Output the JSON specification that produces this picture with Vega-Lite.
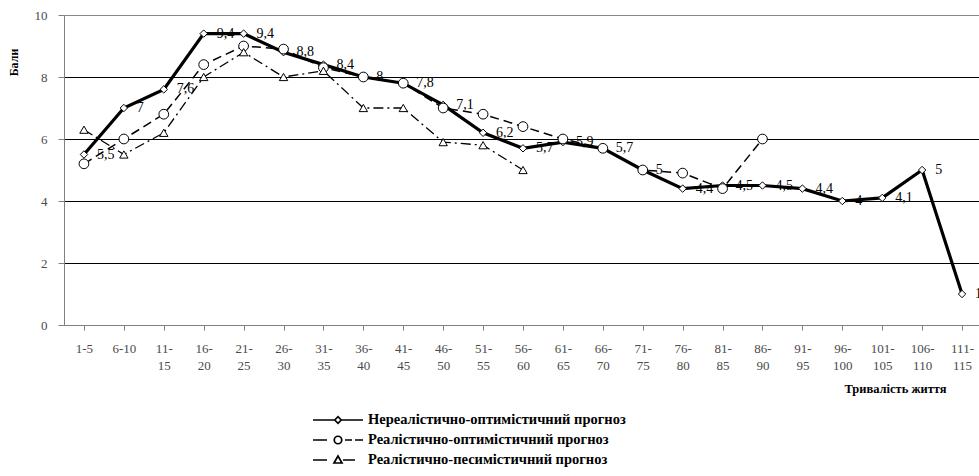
{
  "$schema": "https://vega.github.io/schema/vega-lite/v6.json",
  "autosize": {"type": "none"},
  "padding": {"left": 64, "top": 15, "right": 0, "bottom": 151},
  "width": 918,
  "height": 310,
  "background": "white",
  "config": {
    "view": {"stroke": null},
    "locale": {"number": {"decimal": ",", "thousands": " ", "grouping": [3], "currency": ["", ""]}},
    "axis": {"labelFont": "Liberation Serif", "titleFont": "Liberation Serif"},
    "legend": {"labelFont": "Liberation Serif"}
  },
  "datasets": {
    "main": [
      {"cat": "1-5", "series": "S1", "value": 5.5},
      {"cat": "6-10", "series": "S1", "value": 7},
      {"cat": "11-15", "series": "S1", "value": 7.6},
      {"cat": "16-20", "series": "S1", "value": 9.4},
      {"cat": "21-25", "series": "S1", "value": 9.4},
      {"cat": "26-30", "series": "S1", "value": 8.8},
      {"cat": "31-35", "series": "S1", "value": 8.4},
      {"cat": "36-40", "series": "S1", "value": 8},
      {"cat": "41-45", "series": "S1", "value": 7.8},
      {"cat": "46-50", "series": "S1", "value": 7.1},
      {"cat": "51-55", "series": "S1", "value": 6.2},
      {"cat": "56-60", "series": "S1", "value": 5.7},
      {"cat": "61-65", "series": "S1", "value": 5.9},
      {"cat": "66-70", "series": "S1", "value": 5.7},
      {"cat": "71-75", "series": "S1", "value": 5},
      {"cat": "76-80", "series": "S1", "value": 4.4},
      {"cat": "81-85", "series": "S1", "value": 4.5},
      {"cat": "86-90", "series": "S1", "value": 4.5},
      {"cat": "91-95", "series": "S1", "value": 4.4},
      {"cat": "96-100", "series": "S1", "value": 4},
      {"cat": "101-105", "series": "S1", "value": 4.1},
      {"cat": "106-110", "series": "S1", "value": 5},
      {"cat": "111-115", "series": "S1", "value": 1},
      {"cat": "1-5", "series": "S2", "value": 5.2},
      {"cat": "6-10", "series": "S2", "value": 6},
      {"cat": "11-15", "series": "S2", "value": 6.8},
      {"cat": "16-20", "series": "S2", "value": 8.4},
      {"cat": "21-25", "series": "S2", "value": 9},
      {"cat": "26-30", "series": "S2", "value": 8.9},
      {"cat": "31-35", "series": "S2", "value": 8.3},
      {"cat": "36-40", "series": "S2", "value": 8},
      {"cat": "41-45", "series": "S2", "value": 7.8},
      {"cat": "46-50", "series": "S2", "value": 7},
      {"cat": "51-55", "series": "S2", "value": 6.8},
      {"cat": "56-60", "series": "S2", "value": 6.4},
      {"cat": "61-65", "series": "S2", "value": 6},
      {"cat": "66-70", "series": "S2", "value": 5.7},
      {"cat": "71-75", "series": "S2", "value": 5},
      {"cat": "76-80", "series": "S2", "value": 4.9},
      {"cat": "81-85", "series": "S2", "value": 4.4},
      {"cat": "86-90", "series": "S2", "value": 6},
      {"cat": "1-5", "series": "S3", "value": 6.3},
      {"cat": "6-10", "series": "S3", "value": 5.5},
      {"cat": "11-15", "series": "S3", "value": 6.2},
      {"cat": "16-20", "series": "S3", "value": 8},
      {"cat": "21-25", "series": "S3", "value": 8.8},
      {"cat": "26-30", "series": "S3", "value": 8},
      {"cat": "31-35", "series": "S3", "value": 8.2},
      {"cat": "36-40", "series": "S3", "value": 7},
      {"cat": "41-45", "series": "S3", "value": 7},
      {"cat": "46-50", "series": "S3", "value": 5.9},
      {"cat": "51-55", "series": "S3", "value": 5.8},
      {"cat": "56-60", "series": "S3", "value": 5}
    ],
    "legendrows": [
      {"cat": "1-5", "name": "Нереалістично-оптимістичний прогноз", "value": 5.5},
      {"cat": "1-5", "name": "Реалістично-оптимістичний прогноз", "value": 5.2},
      {"cat": "1-5", "name": "Реалістично-песимістичний прогноз", "value": 6.3}
    ]
  },
  "encoding": {
    "x": {
      "field": "cat", "type": "nominal",
      "scale": {"domain": ["1-5","6-10","11-15","16-20","21-25","26-30","31-35","36-40","41-45","46-50","51-55","56-60","61-65","66-70","71-75","76-80","81-85","86-90","91-95","96-100","101-105","106-110","111-115"], "paddingInner": 0, "paddingOuter": 0},
      "axis": {
        "title": "Тривалість життя",
        "titleFontWeight": "bold", "titleFontSize": 12.5, "titleColor": "#000000",
        "titleX": 831, "titleY": 63, "titleAlign": "center", "titleBaseline": "middle", "titleAnchor": null,
        "labelAngle": 0, "labelFontSize": 13, "labelColor": "#4a4a4a", "labelLineHeight": 17.5,
        "labelPadding": 12, "labelExpr": "length(datum.label) > 4 ? [slice(datum.label, 0, indexof(datum.label, '-') + 1), slice(datum.label, indexof(datum.label, '-') + 1)] : datum.label",
        "bandPosition": 0, "tickSize": 5, "tickColor": "#808080", "domainColor": "#808080", "grid": false
      }
    },
    "y": {
      "field": "value", "type": "quantitative",
      "scale": {"domain": [0, 10], "nice": false},
      "axis": {
        "title": "Бали", "titleFontWeight": "bold", "titleFontSize": 12, "titleColor": "#000000",
        "titleAngle": -90, "titleX": -51, "titleY": 47, "titleAlign": "center", "titleBaseline": "middle",
        "values": [0, 2, 4, 6, 8, 10], "labelFontSize": 13, "labelColor": "#4a4a4a", "labelPadding": 11,
        "tickSize": 6, "tickColor": "#808080", "domainColor": "#808080",
        "grid": true,
        "gridColor": {"condition": {"test": "datum.value == 10 || datum.value == 0", "value": "#888888"}, "value": "#000000"},
        "gridWidth": 1
      }
    }
  },
  "layer": [
    {
      "data": {"name": "main"},
      "transform": [{"filter": "datum.series == 'S3'"}],
      "mark": {"type": "line", "color": "#000000", "strokeWidth": 1.3, "strokeDash": [10, 4, 2, 4]}
    },
    {
      "data": {"name": "main"},
      "transform": [{"filter": "datum.series == 'S2'"}],
      "mark": {"type": "line", "color": "#000000", "strokeWidth": 1.5, "strokeDash": [9, 5]}
    },
    {
      "data": {"name": "main"},
      "transform": [{"filter": "datum.series == 'S1'"}],
      "mark": {"type": "line", "color": "#000000", "strokeWidth": 3.2}
    },
    {
      "data": {"name": "main"},
      "transform": [{"filter": "datum.series == 'S1'"}],
      "mark": {"type": "point", "shape": "diamond", "size": 55, "filled": true, "fill": "#ffffff", "stroke": "#000000", "strokeWidth": 1, "opacity": 1}
    },
    {
      "data": {"name": "main"},
      "transform": [{"filter": "datum.series == 'S2'"}],
      "mark": {"type": "point", "shape": "circle", "size": 95, "filled": true, "fill": "#ffffff", "stroke": "#000000", "strokeWidth": 1, "opacity": 1}
    },
    {
      "data": {"name": "main"},
      "transform": [{"filter": "datum.series == 'S3'"}],
      "mark": {"type": "point", "shape": "triangle-up", "size": 70, "filled": true, "fill": "#ffffff", "stroke": "#000000", "strokeWidth": 1, "opacity": 1}
    },
    {
      "data": {"name": "main"},
      "transform": [{"filter": "datum.series == 'S1'"}],
      "mark": {"type": "text", "align": "left", "baseline": "middle", "dx": 13, "font": "Liberation Serif", "fontSize": 14, "fill": "#000000"},
      "encoding": {"text": {"field": "value", "type": "quantitative", "format": ".1~f"}}
    },
    {
      "data": {"name": "legendrows"},
      "mark": {"type": "point", "color": "#000000", "opacity": 0},
      "encoding": {
        "shape": {
          "field": "name", "type": "nominal",
          "scale": {
            "domain": ["Нереалістично-оптимістичний прогноз", "Реалістично-оптимістичний прогноз", "Реалістично-песимістичний прогноз"],
            "range": [
              "M-1,0L-0.13,0M0.13,0L1,0M-0.13,0L0,-0.13L0.13,0L0,0.13Z",
              "M-1,0L-0.44,0M-0.15,0A0.15,0.15,0,1,0,0.15,0A0.15,0.15,0,1,0,-0.15,0M0.28,0L0.56,0M0.68,0L1,0",
              "M-1,0L-0.44,0M-0.16,0.12L0,-0.16L0.16,0.12ZM0.2,0L0.68,0"
            ]
          },
          "legend": {
            "title": null, "orient": "none", "legendX": 248, "legendY": 398, "direction": "vertical",
            "symbolSize": 2500, "symbolStrokeWidth": 1.7, "symbolStrokeColor": "#000000", "symbolFillColor": "#ffffff",
            "symbolOpacity": 1, "clipHeight": 14, "rowPadding": 5, "labelOffset": 4,
            "labelExpr": "datum.label == 'Реалістично-песимістичний прогноз' ? ' ' + datum.label : datum.label",
            "labelFontSize": 14.5, "labelFontWeight": "bold", "labelColor": "#000000", "labelLimit": 0
          }
        }
      }
    }
  ]
}
